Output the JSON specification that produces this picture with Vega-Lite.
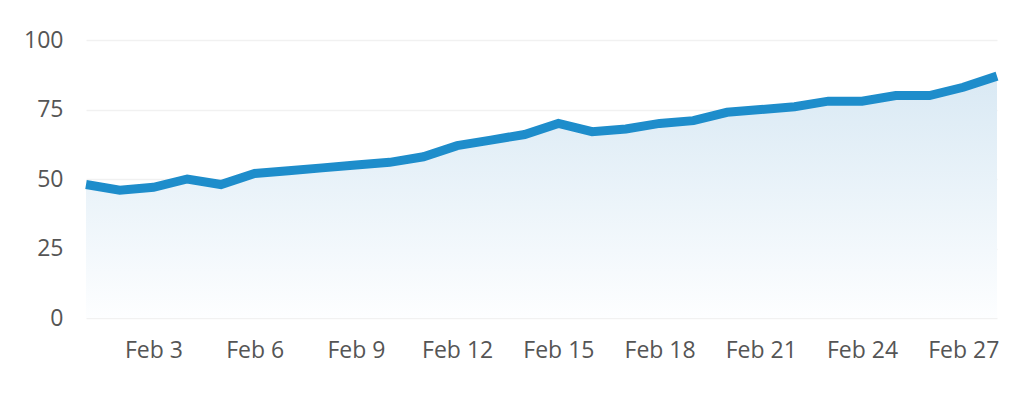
{
  "$schema": "https://vega.github.io/schema/vega-lite/v6.json",
  "width": 911,
  "height": 278,
  "autosize": {"type": "none"},
  "padding": {"left": 86, "top": 40, "right": 28, "bottom": 79},
  "background": "white",
  "config": {
    "view": {"stroke": null},
    "font": "Open Sans",
    "axis": {
      "domain": false,
      "ticks": false,
      "labelFont": "Open Sans",
      "labelFontSize": 23,
      "labelColor": "#555555",
      "gridColor": "#f1f1f1",
      "gridWidth": 1.5,
      "title": null
    }
  },
  "data": {
    "values": [
      {"date": "2024-02-01", "value": 48},
      {"date": "2024-02-02", "value": 46},
      {"date": "2024-02-03", "value": 47},
      {"date": "2024-02-04", "value": 50},
      {"date": "2024-02-05", "value": 48},
      {"date": "2024-02-06", "value": 52},
      {"date": "2024-02-07", "value": 53},
      {"date": "2024-02-08", "value": 54},
      {"date": "2024-02-09", "value": 55},
      {"date": "2024-02-10", "value": 56},
      {"date": "2024-02-11", "value": 58},
      {"date": "2024-02-12", "value": 62},
      {"date": "2024-02-13", "value": 64},
      {"date": "2024-02-14", "value": 66},
      {"date": "2024-02-15", "value": 70},
      {"date": "2024-02-16", "value": 67},
      {"date": "2024-02-17", "value": 68},
      {"date": "2024-02-18", "value": 70},
      {"date": "2024-02-19", "value": 71},
      {"date": "2024-02-20", "value": 74},
      {"date": "2024-02-21", "value": 75},
      {"date": "2024-02-22", "value": 76},
      {"date": "2024-02-23", "value": 78},
      {"date": "2024-02-24", "value": 78},
      {"date": "2024-02-25", "value": 80},
      {"date": "2024-02-26", "value": 80},
      {"date": "2024-02-27", "value": 83},
      {"date": "2024-02-28", "value": 87}
    ]
  },
  "encoding": {
    "x": {
      "field": "date",
      "type": "temporal",
      "scale": {"type": "utc", "nice": false},
      "axis": {
        "grid": false,
        "format": "%b %-d",
        "labelPadding": 21,
        "values": [
          {"year": 2024, "month": 2, "date": 3, "utc": true},
          {"year": 2024, "month": 2, "date": 6, "utc": true},
          {"year": 2024, "month": 2, "date": 9, "utc": true},
          {"year": 2024, "month": 2, "date": 12, "utc": true},
          {"year": 2024, "month": 2, "date": 15, "utc": true},
          {"year": 2024, "month": 2, "date": 18, "utc": true},
          {"year": 2024, "month": 2, "date": 21, "utc": true},
          {"year": 2024, "month": 2, "date": 24, "utc": true},
          {"year": 2024, "month": 2, "date": 27, "utc": true}
        ]
      }
    },
    "y": {
      "field": "value",
      "type": "quantitative",
      "scale": {"domain": [0, 100], "nice": false},
      "axis": {"values": [0, 25, 50, 75, 100], "labelPadding": 23, "grid": true}
    }
  },
  "layer": [
    {
      "mark": {
        "type": "area",
        "color": {
          "gradient": "linear",
          "x1": 1, "y1": 1, "x2": 1, "y2": 0,
          "stops": [
            {"offset": 0, "color": "#fdfeff"},
            {"offset": 1, "color": "#d9e9f4"}
          ]
        }
      }
    },
    {
      "mark": {"type": "line", "color": "#1e8dcb", "strokeWidth": 9, "strokeJoin": "miter", "strokeCap": "butt"}
    }
  ]
}
